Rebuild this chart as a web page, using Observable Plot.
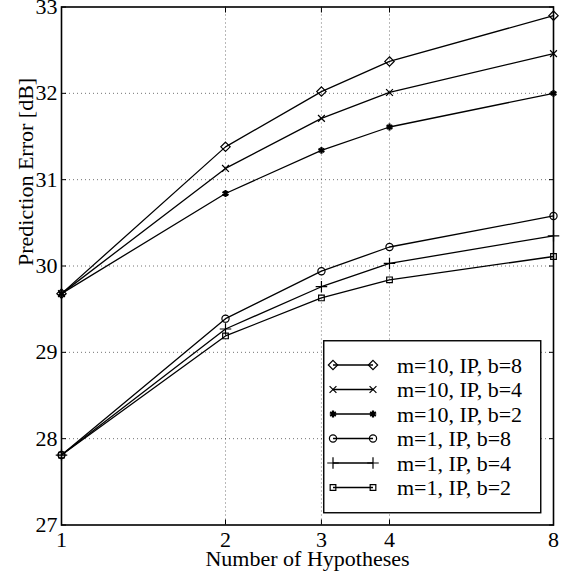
<!DOCTYPE html>
<html><head><meta charset="utf-8">
<script src="https://cdn.jsdelivr.net/npm/d3@7"></script>
<script src="https://cdn.jsdelivr.net/npm/@observablehq/plot@0.6"></script>
<style>
body{margin:0;background:#fff;}
#chart{position:relative;width:566px;height:576px;font-family:"Liberation Serif","Times New Roman",serif;}
#legend{position:absolute;left:323px;top:340px;}
</style></head><body><div id="chart"></div>
<script>
const hypotheses = [1, 2, 3, 4, 8];
const seriesNames = ["m=10, IP, b=8", "m=10, IP, b=4", "m=10, IP, b=2", "m=1, IP, b=8", "m=1, IP, b=4", "m=1, IP, b=2"];
const m10b8 = [29.68, 31.38, 32.02, 32.37, 32.90];
const m10b4 = [29.68, 31.13, 31.71, 32.01, 32.46];
const m10b2 = [29.68, 30.84, 31.34, 31.61, 32.00];
const m1b8 = [27.81, 29.39, 29.94, 30.22, 30.58];
const m1b4 = [27.81, 29.27, 29.76, 30.03, 30.35];
const m1b2 = [27.81, 29.19, 29.63, 29.84, 30.11];
const xTicks = [1, 2, 3, 4, 8];
const yTicks = [27, 28, 29, 30, 31, 32, 33];
const symbolNames = ["diamond2", "times", "asterisk", "circle", "plus", "square2"];
const symbolSizes = [4.2, 3.2, 3.2, 3.6, 3.8, 3.6];

const seriesValues = [m10b8, m10b4, m10b2, m1b8, m1b4, m1b2];
const rows = [];
seriesValues.forEach((vals, i) => vals.forEach((v, j) => rows.push({series: seriesNames[i], idx: i, x: hypotheses[j], y: v})));

const font = '"Liberation Serif","Times New Roman",serif';
const innerX = xTicks.slice(1, -1);
const innerY = yTicks.slice(1, -1);

const marks = [
  Plot.gridX(innerX, {stroke: "#000", strokeOpacity: 0.55, strokeDasharray: "1,3"}),
  Plot.gridY(innerY, {stroke: "#000", strokeOpacity: 0.55, strokeDasharray: "1,3"}),
  Plot.axisX(xTicks, {anchor: "bottom", tickSize: -5, tickFormat: () => "", label: null}),
  Plot.axisX(xTicks, {anchor: "top", tickSize: -5, tickFormat: () => "", label: null}),
  Plot.axisY(yTicks, {anchor: "left", tickSize: -5, tickFormat: () => "", label: null}),
  Plot.axisY(yTicks, {anchor: "right", tickSize: -5, tickFormat: () => "", label: null}),
  Plot.text(xTicks, {x: d => d, frameAnchor: "bottom", lineAnchor: "top", dy: 6, text: d => String(d), fontSize: 22}),
  Plot.axisY(yTicks, {anchor: "left", tickSize: 0, tickPadding: 4, tickFormat: d => String(d), label: null}),
  Plot.line(rows, {x: "x", y: "y", z: "series", stroke: "#000", strokeWidth: 1.3}),
];
seriesNames.forEach((name, i) => {
  marks.push(Plot.dot(rows.filter(r => r.idx === i), {
    x: "x", y: "y", symbol: () => symbolNames[i], r: symbolSizes[i],
    stroke: "#000", fill: "none", strokeWidth: i === 2 ? 2.2 : 1.2
  }));
});
marks.push(Plot.frame({stroke: "#000", strokeWidth: 1.6}));
marks.push(Plot.text(["Number of Hypotheses"], {frameAnchor: "bottom", dy: 34, lineAnchor: "middle", fontSize: 22}));
marks.push(Plot.text(["Prediction Error [dB]"], {frameAnchor: "left", dx: -36, rotate: -90, lineAnchor: "middle", fontSize: 22}));

const plot = Plot.plot({
  width: 566, height: 576,
  marginLeft: 61, marginRight: 13, marginTop: 6.5, marginBottom: 51.5,
  style: {fontFamily: font, fontSize: "22px", background: "white", color: "black", overflow: "visible"},
  x: {type: "log", domain: [1, 8]},
  y: {domain: [27, 33]},
  marks
});
const chart = document.getElementById("chart");
chart.appendChild(plot);

// legend
const lw = 217, lh = 172;
const leg = d3.create("svg").attr("id", "legend").attr("width", lw + 2).attr("height", lh + 2);
leg.append("rect").attr("x", 0.75).attr("y", 0.75).attr("width", lw).attr("height", lh)
  .attr("fill", "white").attr("stroke", "#000").attr("stroke-width", 1.4);
const symMap = {diamond2: d3.symbolDiamond2, times: d3.symbolTimes, asterisk: d3.symbolAsterisk, circle: d3.symbolCircle, plus: d3.symbolPlus, square2: d3.symbolSquare2};
seriesNames.forEach((name, i) => {
  const y = 25 + i * 24.5;
  const g = leg.append("g");
  g.append("line").attr("x1", 10).attr("x2", 50).attr("y1", y).attr("y2", y).attr("stroke", "#000").attr("stroke-width", 1.3);
  const path = d3.symbol(symMap[symbolNames[i]], Math.PI * symbolSizes[i] * symbolSizes[i])();
  [10, 50].forEach(x => g.append("path").attr("d", path).attr("transform", `translate(${x},${y})`)
    .attr("fill", "none").attr("stroke", "#000").attr("stroke-width", i === 2 ? 2.2 : 1.2));
  g.append("text").attr("x", 74).attr("y", y).attr("dy", "0.35em").attr("font-family", font).attr("font-size", 22).text(name);
});
chart.appendChild(leg.node());
</script></body></html>
